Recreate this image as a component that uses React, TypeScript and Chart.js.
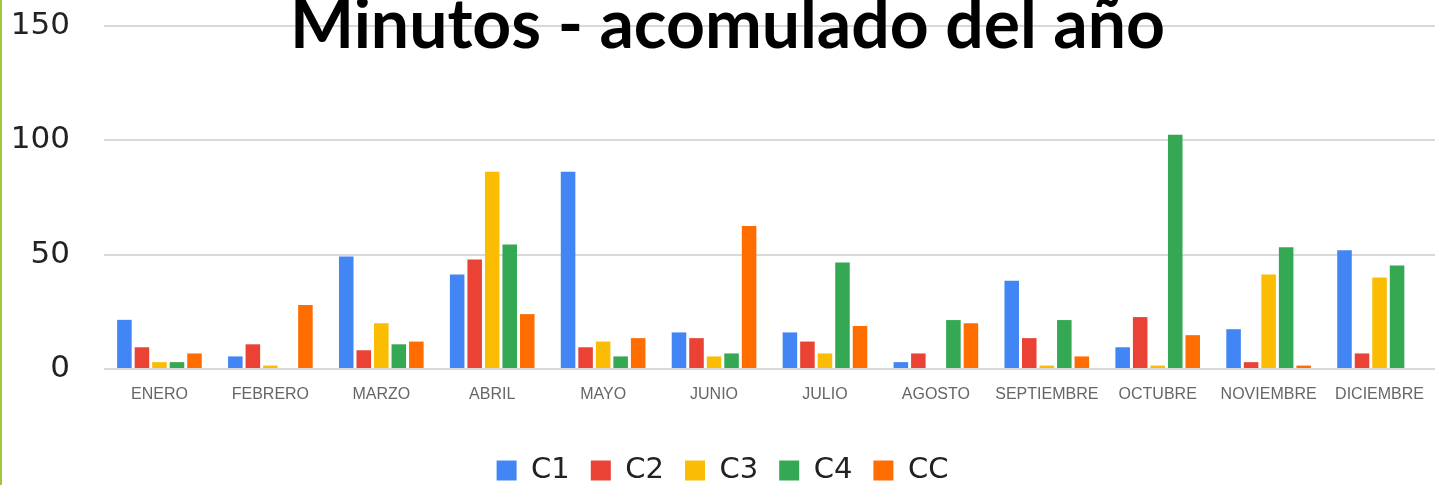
import React, { useEffect, useRef } from "react";
import { Chart, registerables } from "chart.js";

Chart.register(...registerables);

const TITLE = "Minutos - acomulado del año";
const months = ["ENERO", "FEBRERO", "MARZO", "ABRIL", "MAYO", "JUNIO", "JULIO", "AGOSTO", "SEPTIEMBRE", "OCTUBRE", "NOVIEMBRE", "DICIEMBRE"];
const seriesNames = ["C1", "C2", "C3", "C4", "CC"];
const c1 = [21.5, 5.5, 49.2, 41.3, 86.3, 16, 16, 3, 38.6, 9.5, 17.4, 51.9];
const c2 = [9.5, 10.8, 8.2, 47.9, 9.5, 13.5, 12, 6.8, 13.5, 22.7, 3, 6.8];
const c3 = [3, 1.5, 20, 86.3, 12, 5.5, 6.8, 0, 1.5, 1.5, 41.3, 40];
const c4 = [3, 0, 10.8, 54.5, 5.5, 6.8, 46.6, 21.4, 21.4, 102.4, 53.2, 45.3];
const cc = [6.8, 28, 12, 24, 13.5, 62.5, 18.8, 20, 5.5, 14.8, 1.5, 0];
const yTicks = [0, 50, 100, 150];
const colors = ["#4285F4", "#EA4335", "#FBBC04", "#34A853", "#FF6D01"];

const titlePlugin = {
  id: "overTitle",
  afterDraw(chart: any) {
    const ctx = chart.ctx;
    ctx.save();
    ctx.font = "bold 68px Lato";
    const w = ctx.measureText(TITLE).width;
    const sx = 875 / w;
    ctx.translate(727.5, 48);
    ctx.scale(sx, 1);
    ctx.textAlign = "center";
    ctx.textBaseline = "alphabetic";
    ctx.fillStyle = "#000";
    ctx.fillText(TITLE, 0, 0);
    ctx.restore();
  },
};

export default function App() {
  const ref = useRef<HTMLCanvasElement | null>(null);
  useEffect(() => {
    if (!ref.current) return;
    const all = [c1, c2, c3, c4, cc];
    const chart = new Chart(ref.current, {
      type: "bar",
      data: {
        labels: months,
        datasets: all.map((d, i) => ({
          label: seriesNames[i],
          data: d,
          backgroundColor: colors[i],
          borderWidth: 0,
          barPercentage: 0.83,
          categoryPercentage: 0.79,
        })),
      },
      options: {
        animation: false,
        responsive: false,
        maintainAspectRatio: false,
        layout: { padding: { top: 26, left: 10, right: 6, bottom: -10 } },
        plugins: {
          title: { display: false },
          tooltip: { enabled: false },
          legend: {
            position: "bottom",
            labels: {
              boxWidth: 20,
              boxHeight: 20,
              padding: 21,
              color: "#222",
              font: { family: "'DejaVu Sans'", size: 29 },
            },
          },
        },
        scales: {
          x: {
            grid: { display: false, drawTicks: false },
            border: { display: false },
            ticks: {
              autoSkip: false,
              maxRotation: 0,
              padding: 16,
              color: "#666",
              font: { family: "'Liberation Sans'", size: 16 },
            },
            afterFit(scale: any) {
              scale.height = 66;
              scale.paddingLeft = 0;
              scale.paddingRight = 0;
            },
          },
          y: {
            min: 0,
            max: 150,
            afterBuildTicks(scale: any) {
              scale.ticks = yTicks.map((v) => ({ value: v }));
            },
            grid: { color: "#d9d9d9", lineWidth: 2, drawTicks: false },
            border: { display: false },
            ticks: {
              padding: 34,
              color: "#222",
              font: { family: "'DejaVu Sans'", size: 31 },
            },
            afterFit(scale: any) {
              scale.width = 94;
              scale.paddingTop = 0;
              scale.paddingBottom = 0;
            },
          },
        },
      },
      plugins: [titlePlugin],
    });
    return () => chart.destroy();
  }, []);
  return (
    <div style={{ position: "fixed", left: 0, top: 0, width: 1441, height: 485, background: "#fff" }}>
      <canvas ref={ref} width={1441} height={485} style={{ position: "absolute", left: 0, top: 0, width: 1441, height: 485 }} />
      <div style={{ position: "absolute", left: 0, top: 0, width: 2, height: 485, background: "#9dc93b" }} />
    </div>
  );
}
